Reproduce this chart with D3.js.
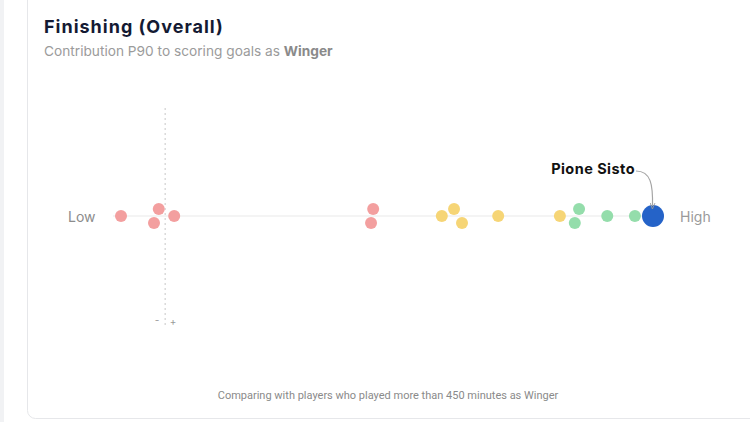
<!DOCTYPE html>
<html><head><meta charset="utf-8">
<script src="https://cdn.jsdelivr.net/npm/d3@7"></script>
<style>
html,body{margin:0;padding:0;background:#fff;}
svg{display:block;font-family:Inter,Roboto,"Noto Sans",sans-serif;}
</style></head>
<body>
<svg id="c" width="750" height="422"></svg>
<script>
const values = [0, 7.1, 6.2, 10.0, 47.4, 47.0, 60.3, 62.6, 64.1, 70.9, 82.5, 86.1, 85.3, 91.4, 96.6, 100];
const lanes  = [0, -1, 1, 0, -1, 1, 0, -1, 1, 0, 0, -1, 1, 0, 0, 0];
const groups = ["low","low","low","low","low","low","mid","mid","mid","mid","mid","high","high","high","high","player"];
const players = ["","","","","","","","","","","","","","","","Pione Sisto"];
const zeroValue = 8.3;
const colors = {low:"#f29a9a", mid:"#f6d36f", high:"#8edba6", player:"#2563c8"};

const svg = d3.select("#c");
// page chrome
svg.append("rect").attr("x",0).attr("y",0).attr("width",4).attr("height",422).attr("fill","#f1f2f4");
svg.append("rect").attr("x",27.5).attr("y",-10).attr("width",740).attr("height",428.5).attr("rx",8)
  .attr("fill","#fff").attr("stroke","#e6e7ea");

svg.append("text").attr("x",44).attr("y",33).attr("font-size",18).attr("font-weight",700)
  .attr("letter-spacing",1).attr("fill","#141a33").text("Finishing (Overall)");
const sub = svg.append("text").attr("x",44).attr("y",56).attr("font-size",13.7).attr("fill","#9b9b9b");
sub.append("tspan").text("Contribution P90 to scoring goals as ");
sub.append("tspan").attr("font-weight",700).attr("fill","#8a8a8a").text("Winger");

const x = d3.scaleLinear().domain([0,100]).range([121,653]);
const y0 = 216;
const laneStep = 7;

// baseline
svg.append("line").attr("x1",x(-1.5)).attr("x2",x(100)).attr("y1",y0).attr("y2",y0)
  .attr("stroke","#e9e9e9").attr("stroke-width",1);
// zero dotted line
svg.append("line").attr("x1",x(zeroValue)).attr("x2",x(zeroValue)).attr("y1",108).attr("y2",326)
  .attr("stroke","#c8c8c8").attr("stroke-width",1).attr("stroke-dasharray","2,3");
svg.append("text").attr("x",x(zeroValue)-8).attr("y",324).attr("text-anchor","middle")
  .attr("font-size",10).attr("fill","#999").text("-");
svg.append("text").attr("x",x(zeroValue)+8).attr("y",325).attr("text-anchor","middle")
  .attr("font-size",10).attr("fill","#999").text("+");

svg.append("text").attr("x",68).attr("y",222).attr("font-size",14).attr("fill","#8c8c8c").text("Low");
svg.append("text").attr("x",680).attr("y",222).attr("font-size",14).attr("fill","#9a9a9a").text("High");

const data = values.map((v,i)=>({v, lane:lanes[i], g:groups[i], name:players[i]}));
svg.selectAll("circle.pt").data(data.filter(d=>d.g!=="player")).join("circle")
  .attr("class","pt").attr("cx",d=>x(d.v)).attr("cy",d=>y0+d.lane*laneStep)
  .attr("r",6).attr("fill",d=>colors[d.g]).attr("opacity",0.95);
const p = data.find(d=>d.g==="player");
svg.append("circle").attr("cx",x(p.v)).attr("cy",y0).attr("r",11).attr("fill",colors.player);

// annotation
svg.append("text").attr("x",x(p.v)-18).attr("y",174).attr("text-anchor","end")
  .attr("font-size",14.5).attr("font-weight",700).attr("letter-spacing",0.45).attr("fill","#111").text(p.name);
svg.append("defs").append("marker").attr("id","ah").attr("viewBox","0 0 10 10").attr("refX",5).attr("refY",5)
  .attr("markerWidth",5).attr("markerHeight",5).attr("orient","auto")
  .append("path").attr("d","M0,1 L10,5 L0,9").attr("fill","none").attr("stroke","#999").attr("stroke-width",1.5);
const ax = x(p.v);
svg.append("path").attr("d",`M${ax-17},171 C${ax-2},171 ${ax},185 ${ax-0.5},${y0-10}`)
  .attr("fill","none").attr("stroke","#a5a5a5").attr("stroke-width",1.2).attr("marker-end","url(#ah)");

svg.append("text").attr("x",388).attr("y",399).attr("text-anchor","middle").attr("font-size",11)
  .attr("font-family","Roboto, sans-serif")
  .attr("fill","#8a8a8a").text("Comparing with players who played more than 450 minutes as Winger");
</script>
</body></html>
